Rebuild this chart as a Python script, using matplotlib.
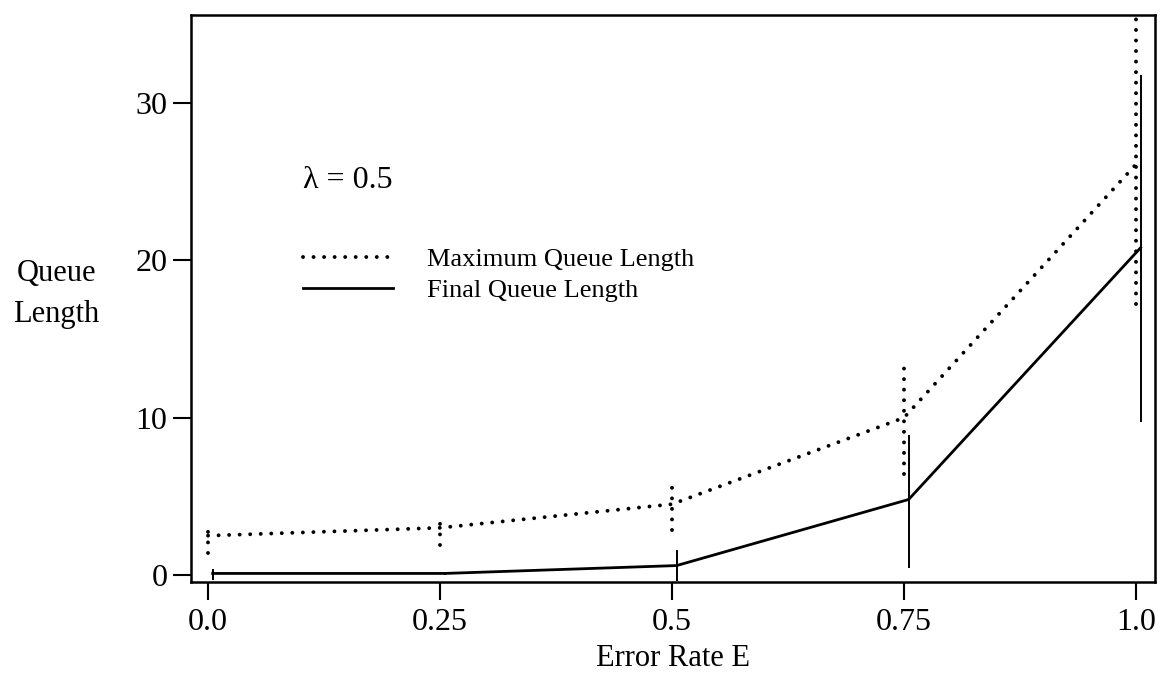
import matplotlib
matplotlib.use("Agg")
import matplotlib.pyplot as plt
import numpy as np

# error rates on the x axis
error_rate = [0.0, 0.25, 0.5, 0.75, 1.0]
tick_labels = ["0.0", "0.25", "0.5", "0.75", "1.0"]

# maximum queue length: mean and bar ends
max_mean = [2.5, 3.0, 4.5, 10.0, 26.1]
max_lo = [1.4, 1.9, 2.85, 6.45, 17.2]
max_hi = [3.2, 3.6, 5.7, 13.5, 35.5]

# final queue length: mean and bar ends
final_mean = [0.1, 0.1, 0.6, 4.8, 20.8]
final_lo = [-0.3, 0.0, -0.4, 0.45, 9.7]
final_hi = [0.4, 0.2, 1.6, 8.9, 31.8]

plt.rcParams["font.family"] = ["Liberation Serif", "DejaVu Serif"]

DOT = (0, (0.01, 2.7))

fig = plt.figure(figsize=(11.6, 6.73), dpi=100)
ax = fig.add_axes([0.1647, 0.1352, 0.831, 0.8425])

x = np.array(error_rate)
xf = x + 0.005  # final-length bars sit just right of the ticks

mm = np.array(max_mean)
(max_line,) = ax.plot(x, mm, color="black", lw=2.8, linestyle=DOT,
                      dash_capstyle="round", label="Maximum Queue Length")
eb = ax.errorbar(x, mm, yerr=[mm - np.array(max_lo), np.array(max_hi) - mm],
                 fmt="none", ecolor="black", elinewidth=2.8, capsize=0)
for col in eb[2]:
    col.set_linestyle(DOT)
    col.set_capstyle("round")

fm = np.array(final_mean)
(final_line,) = ax.plot(xf, fm, color="black", lw=2.0, label="Final Queue Length")
ax.errorbar(xf, fm, yerr=[fm - np.array(final_lo), np.array(final_hi) - fm],
            fmt="none", ecolor="black", elinewidth=1.4, capsize=0)

ax.set_xlim(-0.0183, 1.0205)
ax.set_ylim(-0.445, 35.59)
ax.set_xticks(error_rate)
ax.set_xticklabels(tick_labels)
ax.set_yticks([0, 10, 20, 30])
ax.tick_params(axis="both", direction="out", length=13, width=1.5,
               labelsize=23, color="black")
ax.tick_params(axis="x", pad=6)
ax.tick_params(axis="y", pad=4)
for sp in ax.spines.values():
    sp.set_linewidth(1.8)

ax.set_xlabel("Error Rate E", fontsize=22)
ax.xaxis.set_label_coords(0.5, -0.11)
ax.set_ylabel("Queue\nLength", fontsize=22, rotation=0, linespacing=1.55,
              ha="center", va="center")
ax.yaxis.set_label_coords(-0.14, 0.508)

fig.text(303 / 1160, 1 - 188 / 673, "λ = 0.5", fontsize=23,
         ha="left", va="baseline")

ax.legend(handles=[max_line, final_line], loc="upper left",
          bbox_to_anchor=(303 / 1160, 1 - 248 / 673),
          bbox_transform=fig.transFigure, frameon=False, fontsize=19,
          handlelength=3.4, handletextpad=1.3, labelspacing=0.28,
          borderpad=0, borderaxespad=0)

fig.savefig("out.png", dpi=100)
